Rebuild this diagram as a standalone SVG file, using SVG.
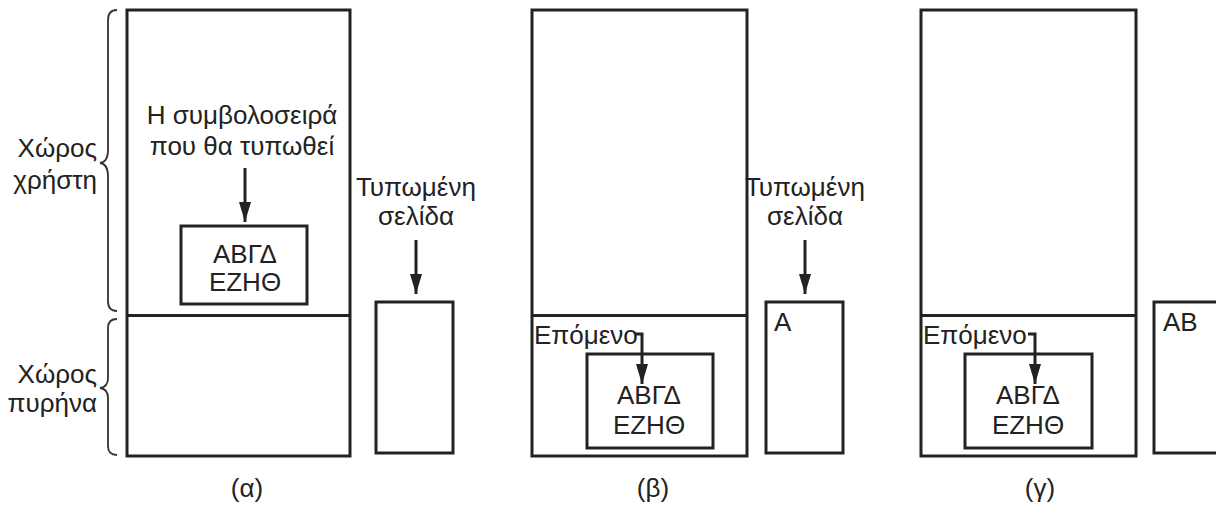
<svg xmlns="http://www.w3.org/2000/svg" width="1216" height="509" viewBox="0 0 1216 509">
<defs>
<style>
.box{fill:none;stroke:#222;stroke-width:3}
.ln{fill:none;stroke:#222;stroke-width:3}
.br{fill:none;stroke:#333;stroke-width:1.8}
.t{font-family:"Liberation Sans",Arial,sans-serif;font-size:26px;fill:#222}
.c{text-anchor:middle}
.e{text-anchor:end}
</style>
<marker id="ah" viewBox="0 0 20 12" refX="20" refY="6" markerWidth="20" markerHeight="12" markerUnits="userSpaceOnUse" orient="auto">
<path d="M0,0 L20,6 L0,12 z" fill="#222"/>
</marker>
</defs>
<rect width="1216" height="509" fill="#fff"/>

<g id="panel-a">
<g id="a-memory"><rect class="box" x="127" y="10" width="223" height="446"/><line class="ln" x1="127" y1="315.5" x2="350" y2="315.5"/></g>
<g id="a-user-label"><path class="br" d="M117,10 Q108,10 108,20 L108,150 Q108,162 100,163 Q108,164 108,176 L108,301 Q108,311 117,311"/><text class="t e" x="97" y="157">Χώρος</text><text class="t e" x="97" y="189">χρήστη</text></g>
<g id="a-kernel-label"><path class="br" d="M117,319 Q108,319 108,328 L108,378 Q108,387 100,388 Q108,389 108,398 L108,446 Q108,455 117,455"/><text class="t e" x="97" y="383">Χώρος</text><text class="t e" x="97" y="412">πυρήνα</text></g>
<g id="a-string-label"><text class="t c" x="242" y="124">Η συμβολοσειρά</text><text class="t c" x="242" y="155">που θα τυπωθεί</text></g>
<g id="a-buffer"><rect class="box" x="181" y="226" width="126" height="78"/><text class="t c" x="245" y="263">ΑΒΓΔ</text><text class="t c" x="245" y="291">ΕΖΗΘ</text></g>
<g id="a-page-label"><text class="t c" x="416" y="196">Τυπωμένη</text><text class="t c" x="416" y="225">σελίδα</text></g>
<g id="a-page"><rect class="box" x="376" y="302" width="77" height="151"/></g>
<text class="t c" x="247" y="497">(α)</text>
</g>

<g id="panel-b">
<g id="b-memory"><rect class="box" x="532" y="10" width="215" height="446"/><line class="ln" x1="532" y1="315.5" x2="747" y2="315.5"/></g>
<g id="b-next"><text class="t" x="534" y="344">Επόμενο</text></g>
<g id="b-buffer"><rect class="box" x="587" y="354" width="126" height="94"/><text class="t c" x="649" y="404">ΑΒΓΔ</text><text class="t c" x="649" y="434">ΕΖΗΘ</text></g>
<g id="b-page-label"><text class="t c" x="805" y="196">Τυπωμένη</text><text class="t c" x="805" y="225">σελίδα</text></g>
<g id="b-page"><rect class="box" x="766" y="302" width="77" height="151"/><text class="t" x="774" y="331">Α</text></g>
<text class="t c" x="653" y="497">(β)</text>
</g>

<g id="panel-c">
<g id="c-memory"><rect class="box" x="921" y="10" width="215" height="446"/><line class="ln" x1="921" y1="315.5" x2="1136" y2="315.5"/></g>
<g id="c-next"><text class="t" x="923" y="344">Επόμενο</text></g>
<g id="c-buffer"><rect class="box" x="965" y="354" width="127" height="94"/><text class="t c" x="1028" y="404">ΑΒΓΔ</text><text class="t c" x="1028" y="434">ΕΖΗΘ</text></g>
<g id="c-page"><rect class="box" x="1154" y="302" width="80" height="151"/><text class="t" x="1163" y="331">ΑΒ</text></g>
<text class="t c" x="1040" y="497">(γ)</text>
</g>

<g id="connectors">
<line class="ln" x1="245" y1="168" x2="245" y2="222" marker-end="url(#ah)"/>
<line class="ln" x1="416" y1="240" x2="416" y2="294" marker-end="url(#ah)"/>
<line class="ln" x1="805" y1="240" x2="805" y2="294" marker-end="url(#ah)"/>
<path class="ln" d="M635,334 L642,334 L642,384" marker-end="url(#ah)"/>
<path class="ln" d="M1028,334 L1035,334 L1035,384" marker-end="url(#ah)"/>
</g>
</svg>
